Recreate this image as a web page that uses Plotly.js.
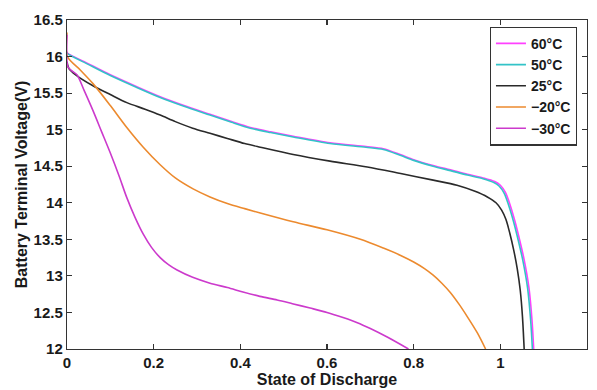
<!DOCTYPE html>
<html>
<head>
<meta charset="utf-8">
<script src="https://cdn.plot.ly/plotly-3.0.1.min.js"></script>
<style>html,body{margin:0;padding:0;background:#fff;}#chart{width:597px;height:390px;}</style>
</head>
<body>
<div id="chart"></div>
<script>
const seriesNames = ["60\u00b0C", "50\u00b0C", "25\u00b0C", "\u221220\u00b0C", "\u221230\u00b0C"];

const x60 = [0, 0.001, 0.05, 0.1, 0.16, 0.215, 0.27, 0.33, 0.38, 0.423, 0.47, 0.522, 0.607, 0.69, 0.73, 0.769, 0.8, 0.845, 0.885, 0.924, 0.96, 0.987, 1.0, 1.012, 1.022, 1.034, 1.045, 1.055, 1.066, 1.073, 1.077];
const v60 = [16.07, 16.05, 15.90, 15.75, 15.59, 15.45, 15.33, 15.21, 15.11, 15.03, 14.97, 14.91, 14.82, 14.77, 14.74, 14.66, 14.59, 14.51, 14.45, 14.39, 14.34, 14.29, 14.24, 14.14, 13.98, 13.74, 13.48, 13.22, 12.84, 12.40, 12.0];

const x50 = [0, 0.001, 0.05, 0.1, 0.16, 0.215, 0.27, 0.33, 0.38, 0.423, 0.47, 0.522, 0.607, 0.69, 0.73, 0.769, 0.8, 0.845, 0.885, 0.924, 0.96, 0.984, 0.997, 1.009, 1.019, 1.031, 1.042, 1.052, 1.063, 1.070, 1.074];
const v50 = [16.06, 16.04, 15.89, 15.74, 15.58, 15.44, 15.32, 15.20, 15.10, 15.02, 14.96, 14.90, 14.81, 14.76, 14.73, 14.65, 14.58, 14.50, 14.44, 14.38, 14.33, 14.28, 14.23, 14.13, 13.97, 13.73, 13.47, 13.21, 12.83, 12.39, 12.0];

const x25 = [0, 0.004, 0.02, 0.06, 0.1, 0.138, 0.18, 0.215, 0.25, 0.29, 0.33, 0.37, 0.41, 0.446, 0.522, 0.607, 0.693, 0.77, 0.845, 0.9, 0.94, 0.97, 0.99, 1.003, 1.013, 1.022, 1.031, 1.039, 1.046, 1.051, 1.055];
const v25 = [15.93, 15.84, 15.75, 15.60, 15.48, 15.37, 15.28, 15.20, 15.11, 15.02, 14.95, 14.88, 14.81, 14.76, 14.66, 14.57, 14.49, 14.40, 14.31, 14.24, 14.16, 14.08, 14.00, 13.90, 13.77, 13.58, 13.35, 13.10, 12.80, 12.45, 12.0];

const xm20 = [0, 0.001, 0.03, 0.06, 0.1, 0.138, 0.176, 0.215, 0.25, 0.291, 0.33, 0.37, 0.41, 0.446, 0.522, 0.6, 0.677, 0.73, 0.77, 0.8, 0.825, 0.845, 0.865, 0.885, 0.905, 0.924, 0.947, 0.966];
const vm20 = [16.33, 16.0, 15.82, 15.63, 15.33, 15.03, 14.76, 14.52, 14.34, 14.19, 14.08, 13.99, 13.92, 13.86, 13.74, 13.63, 13.50, 13.38, 13.28, 13.19, 13.10, 13.01, 12.90, 12.77, 12.61, 12.44, 12.22, 12.0];

const xm30 = [0, 0.002, 0.012, 0.023, 0.04, 0.06, 0.08, 0.1, 0.12, 0.138, 0.157, 0.176, 0.195, 0.215, 0.235, 0.254, 0.29, 0.33, 0.37, 0.406, 0.445, 0.485, 0.52, 0.561, 0.6, 0.637, 0.67, 0.7, 0.74, 0.788];
const vm30 = [16.3, 15.86, 15.80, 15.75, 15.53, 15.26, 14.97, 14.68, 14.37, 14.07, 13.80, 13.57, 13.39, 13.25, 13.15, 13.08, 12.98, 12.90, 12.84, 12.78, 12.72, 12.67, 12.62, 12.56, 12.50, 12.43, 12.36, 12.28, 12.16, 12.0];

const xTicks = [0, 0.2, 0.4, 0.6, 0.8, 1, 1.2];
const xTickLabels = ["0", "0.2", "0.4", "0.6", "0.8", "1", "1.2"];
const yTicks = [12, 12.5, 13, 13.5, 14, 14.5, 15, 15.5, 16, 16.5];
const yTickLabels = ["12", "12.5", "13", "13.5", "14", "14.5", "15", "15.5", "16", "16.5"];

const colors = ["#ff40ff", "#33c3c8", "#2a2a2a", "#ec8a2e", "#cc3acc"];
const xs = [x60, x50, x25, xm20, xm30];
const vs = [v60, v50, v25, vm20, vm30];

const family = "Liberation Sans, Arial, Helvetica, sans-serif";
const tickFont = {family: family, size: 15, color: "#1a1a1a", weight: "bold"};
const titleFont = {family: family, size: 16, color: "#1a1a1a", weight: "bold"};
const legendFont = {family: family, size: 14, color: "#1a1a1a", weight: "bold"};

const traces = seriesNames.map((n, i) => ({
  x: xs[i], y: vs[i], name: n, type: "scatter", mode: "lines",
  legendrank: i + 1,
  line: {color: colors[i], width: 1.6, shape: "spline", smoothing: 0.8}
}));

const axisCommon = {
  showgrid: false, zeroline: false, showline: true, linecolor: "#333", linewidth: 1.2,
  mirror: "ticks", ticks: "inside", ticklen: 5, tickcolor: "#333", tickwidth: 1.2,
  tickfont: tickFont
};

const layout = {
  width: 597, height: 390,
  margin: {l: 67, r: 10, t: 20, b: 41},
  paper_bgcolor: "#fff", plot_bgcolor: "#fff",
  showlegend: true,
  legend: {
    x: 0.813, y: 0.98, xanchor: "left", yanchor: "top",
    bgcolor: "#fff", bordercolor: "#333", borderwidth: 1.2,
    font: legendFont, traceorder: "normal"
  },
  xaxis: Object.assign({}, axisCommon, {
    range: [0, 1.2], tickvals: xTicks, ticktext: xTickLabels,
    title: {text: "State of Discharge", font: titleFont, standoff: 0}
  }),
  yaxis: Object.assign({}, axisCommon, {
    range: [12, 16.5], tickvals: yTicks, ticktext: yTickLabels,
    title: {text: "Battery Terminal Voltage(V)", font: titleFont, standoff: 2}
  })
};

// draw 60 first so 50 sits on top, leaving a pink edge as in the reference
Plotly.newPlot("chart", [traces[0], traces[1], traces[2], traces[3], traces[4]], layout, {staticPlot: true});
</script>
</body>
</html>
